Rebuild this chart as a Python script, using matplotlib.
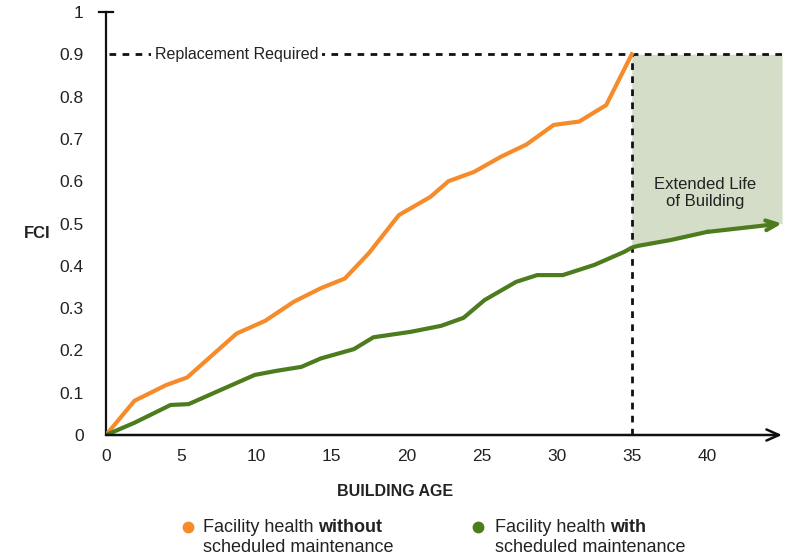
import numpy as np
import matplotlib
matplotlib.use("Agg")
import matplotlib.pyplot as plt
from matplotlib.lines import Line2D

plt.rcParams['font.family'] = ['Liberation Sans', 'DejaVu Sans']

# data
orange_x = [0, 1.9, 4.0, 5.4, 8.7, 10.6, 12.5, 14.3, 15.9, 17.5, 19.5, 21.6,
            22.8, 24.5, 26.3, 28.0, 29.8, 31.5, 33.3, 35.0]
orange_y = [0, 0.081, 0.118, 0.136, 0.240, 0.270, 0.315, 0.347, 0.370, 0.43,
            0.52, 0.563, 0.600, 0.622, 0.658, 0.687, 0.733, 0.741, 0.780, 0.900]

green_x = [0, 1.9, 4.3, 5.5, 9.9, 11.4, 13.0, 14.3, 16.5, 17.8, 20.3, 22.3,
           23.8, 25.2, 27.3, 28.7, 30.4, 32.5, 34.5, 35.0, 35.4, 37.6, 40.0, 45.0]
green_y = [0, 0.029, 0.071, 0.073, 0.142, 0.152, 0.161, 0.181, 0.203, 0.231,
           0.244, 0.258, 0.277, 0.319, 0.362, 0.378, 0.378, 0.402, 0.433, 0.443,
           0.447, 0.461, 0.480, 0.500]

x_ticks = [0, 5, 10, 15, 20, 25, 30, 35, 40]
y_ticks = [0, 0.1, 0.2, 0.3, 0.4, 0.5, 0.6, 0.7, 0.8, 0.9, 1]
y_tick_labels = ['0', '0.1', '0.2', '0.3', '0.4', '0.5', '0.6', '0.7', '0.8', '0.9', '1']

replace_level = 0.9
replace_age = 35
end_age = 45

ORANGE = '#f68b2c'
GREEN = '#4d7c1e'
SHADE = '#d4ddc7'
TXT = '#222222'

W, H = 797, 559
fig = plt.figure(figsize=(W / 100, H / 100), dpi=100)
ax = fig.add_axes([106 / W, 1 - 435 / H, 676 / W, 423 / H])
ax.set_xlim(0, end_age)
ax.set_ylim(0, 1)

# shaded "extended life" region
gx = np.array(green_x)
gy = np.array(green_y)
m = gx >= replace_age
ax.fill_between(gx[m], gy[m], replace_level, color=SHADE, lw=0, zorder=1)

# reference dashed lines
ax.plot([0.2, end_age], [replace_level, replace_level], color='#111111', lw=2,
        ls=(0, (2.4, 2.3)), zorder=2, clip_on=False)
ax.plot([replace_age, replace_age], [0, replace_level], color='#111111', lw=2,
        ls=(0, (2.4, 2.3)), zorder=2)
ax.text(8.7, replace_level, 'Replacement Required', ha='center', va='center',
        fontsize=11.5, color=TXT, zorder=3,
        bbox=dict(boxstyle='square,pad=0.25', fc='white', ec='none'))

# series
ax.plot(orange_x, orange_y, color=ORANGE, lw=3, solid_joinstyle='miter', zorder=4)
ax.plot(green_x[:-1], green_y[:-1], color=GREEN, lw=3, zorder=4)
ax.annotate('', xy=(green_x[-1], green_y[-1]), xytext=(green_x[-2], green_y[-2]),
            arrowprops=dict(arrowstyle='->,head_length=0.8,head_width=0.35',
                            color=GREEN, lw=3, shrinkA=0, shrinkB=0),
            zorder=4, annotation_clip=False)

ax.text(39.9, 0.572, 'Extended Life\nof Building', ha='center', va='center',
        fontsize=12, color=TXT, linespacing=1.15)

# axes
for s in ['top', 'right', 'bottom']:
    ax.spines[s].set_visible(False)
ax.spines['left'].set_linewidth(1.6)
ax.spines['left'].set_color('#111111')
ax.plot([-0.47, 0.47], [1, 1], color='#111111', lw=1.6, clip_on=False)
ax.annotate('', xy=(end_age, 0), xytext=(0, 0),
            arrowprops=dict(arrowstyle='->,head_length=0.9,head_width=0.4',
                            color='#111111', lw=1.8, shrinkA=0, shrinkB=0),
            annotation_clip=False, zorder=5)

ax.set_xticks(x_ticks)
ax.set_yticks(y_ticks)
ax.set_yticklabels(y_tick_labels)
ax.tick_params(axis='x', length=0, pad=10, labelsize=12.5, labelcolor=TXT)
ax.tick_params(axis='y', length=0, pad=16, labelsize=12.5, labelcolor=TXT)

fig.text(37 / W, 1 - 233 / H, 'FCI', ha='center', va='center', fontsize=12,
         fontweight='bold', color=TXT)
fig.text(395 / W, 1 - 491 / H, 'BUILDING AGE', ha='center', va='center',
         fontsize=11.5, fontweight='bold', color=TXT)

# legend drawn by hand (mixed regular / bold text)
legend_items = [
    (188, 203, ORANGE, 'Facility health ', 'without'),
    (478, 495, GREEN, 'Facility health ', 'with'),
]
fig.canvas.draw()
renderer = fig.canvas.get_renderer()
for dot_x, txt_x, col, reg, bold in legend_items:
    fig.add_artist(Line2D([dot_x / W], [1 - 527 / H], marker='o', ms=7.5,
                          color=col, ls='none', transform=fig.transFigure))
    t1 = fig.text(txt_x / W, 1 - 528 / H, reg, ha='left', va='center',
                  fontsize=13, color=TXT)
    bb = t1.get_window_extent(renderer)
    fig.text(bb.x1 / W, 1 - 528 / H, bold, ha='left', va='center',
             fontsize=13, fontweight='bold', color=TXT)
    fig.text(txt_x / W, 1 - 547 / H, 'scheduled maintenance', ha='left',
             va='center', fontsize=13, color=TXT)

fig.savefig('out.png', dpi=100)
